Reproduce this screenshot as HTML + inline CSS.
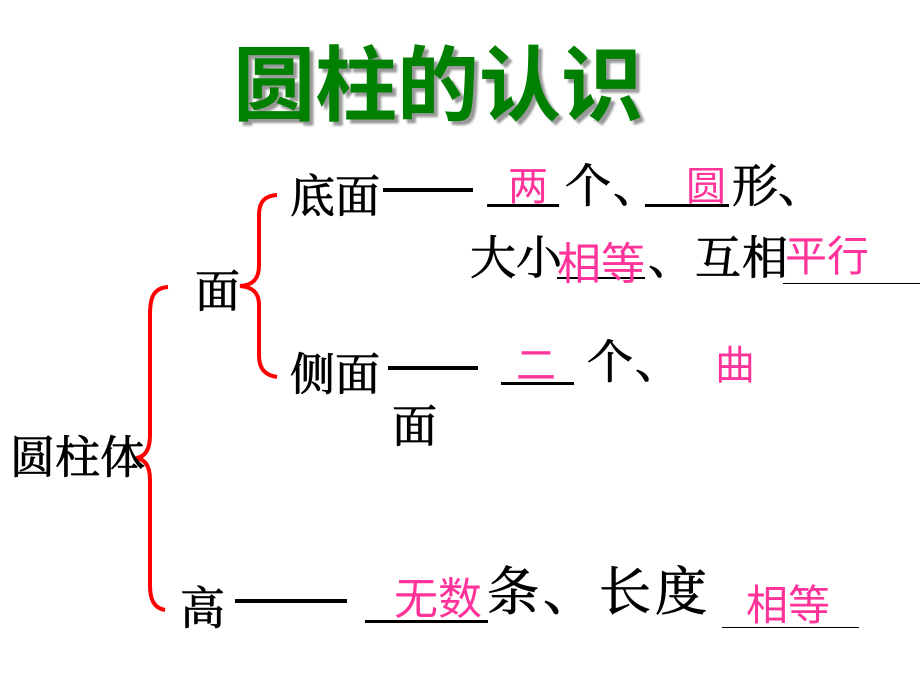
<!DOCTYPE html>
<html><head><meta charset="utf-8"><style>
html,body{margin:0;padding:0;background:#fff;}
#c{position:relative;width:920px;height:690px;overflow:hidden;background:#fff;}
.t{position:absolute;line-height:1;white-space:nowrap;font-family:"Liberation Serif","Noto Serif CJK SC",serif;color:#000;font-size:45px;-webkit-text-stroke:0.8px #000;}
.p{position:absolute;line-height:1;white-space:nowrap;font-family:"Liberation Sans","Noto Sans CJK SC",sans-serif;color:#ff3399;font-size:42px;}
.l{position:absolute;background:#000;}
</style></head><body><div id="c">
<div class="t" style="left:233px;top:46px;font-size:82px;font-weight:bold;color:#008000;-webkit-text-stroke:0;font-family:'Liberation Sans','Noto Sans CJK SC',sans-serif;text-shadow:4px 4px 2px #999;">圆柱的认识</div>

<svg width="920" height="690" style="position:absolute;left:0;top:0">
<path d="M168,287 C152,288 150,300 150,315 L150,435 C150,450 145,457 136,458 C145,459 150,466 150,480 L150,585 C150,600 154,608 165,610" fill="none" stroke="#ff0000" stroke-width="4"/>
<path d="M277,195 C262,196 259,205 259,215 L259,265 C259,278 254,285 240,286 C254,287 259,294 259,305 L259,355 C259,368 264,375 277,377" fill="none" stroke="#ff0000" stroke-width="4"/>
</svg>

<div class="t" style="left:290px;top:175px;">底面</div>
<div class="l" style="left:383px;top:188px;width:90px;height:4px;"></div>
<div class="l" style="left:487px;top:204px;width:72px;height:3px;"></div>
<div class="p" style="left:508px;top:167px;font-size:40px;">两</div>
<div class="t" style="left:565px;top:164px;font-size:46px;letter-spacing:2px;">个、</div>
<div class="l" style="left:645px;top:204px;width:84px;height:3px;"></div>
<div class="p" style="left:686px;top:167px;font-size:40px;">圆</div>
<div class="t" style="left:732px;top:164px;font-size:46px;">形、</div>

<div class="t" style="left:470px;top:236px;font-size:46px;">大小</div>
<div class="l" style="left:557px;top:277px;width:88px;height:2px;"></div>
<div class="p" style="left:557px;top:243px;font-size:44px;">相等</div>
<div class="t" style="left:648px;top:236px;font-size:46px;letter-spacing:1px;">、互相</div>
<div class="p" style="left:785px;top:236px;font-size:42px;">平行</div>
<div class="l" style="left:783px;top:283px;width:137px;height:1px;"></div>

<div class="t" style="left:195px;top:270px;">面</div>

<div class="t" style="left:290px;top:353px;">侧面</div>
<div class="l" style="left:388px;top:366px;width:90px;height:4px;"></div>
<div class="l" style="left:501px;top:382px;width:73px;height:3px;"></div>
<div class="p" style="left:516px;top:346px;font-size:40px;">二</div>
<div class="t" style="left:587px;top:340px;font-size:46px;letter-spacing:2px;">个、</div>
<div class="p" style="left:715px;top:346px;font-size:40px;">曲</div>
<div class="t" style="left:392px;top:405px;">面</div>

<div class="t" style="left:10px;top:436px;">圆柱体</div>

<div class="t" style="left:180px;top:587px;">高</div>
<div class="l" style="left:235px;top:599px;width:112px;height:4px;"></div>
<div class="l" style="left:365px;top:620px;width:123px;height:3px;"></div>
<div class="p" style="left:394px;top:578px;font-size:44px;">无数</div>
<div class="t" style="left:487px;top:568px;font-size:52px;letter-spacing:4px;">条、长度</div>
<div class="p" style="left:746px;top:585px;font-size:42px;">相等</div>
<div class="l" style="left:722px;top:627px;width:137px;height:1px;"></div>
</div></body></html>
